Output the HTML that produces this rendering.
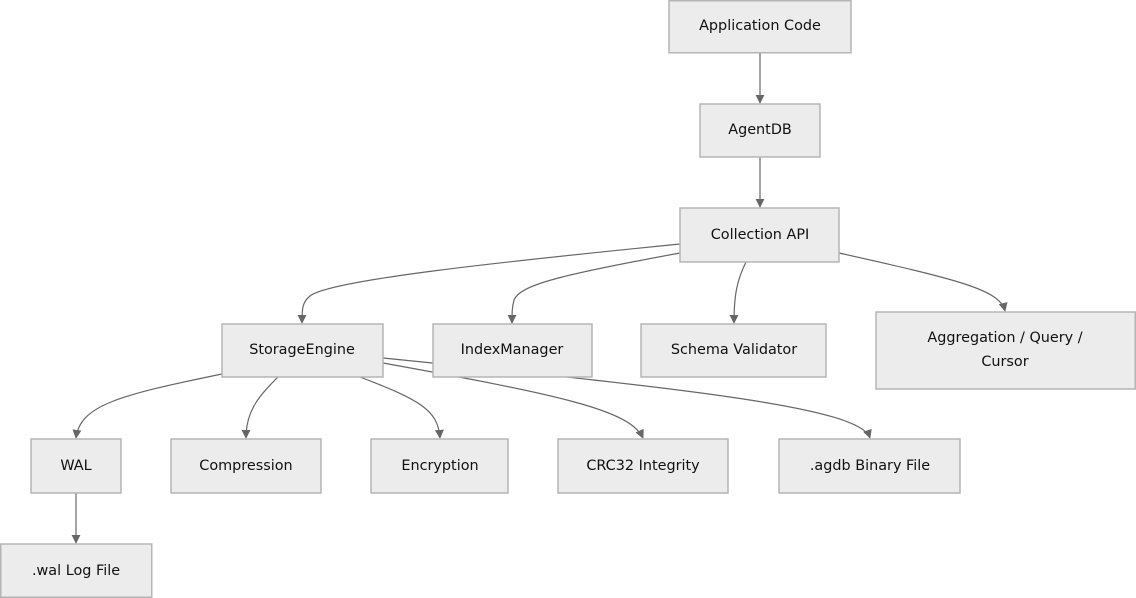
<!DOCTYPE html>
<html><head><meta charset="utf-8"><style>
html,body{margin:0;padding:0;background:#fff;}
svg{display:block}
text{font-family:"DejaVu Sans","Liberation Sans",sans-serif;font-size:14.4px;fill:#111;text-anchor:middle;dominant-baseline:central}
rect{fill:#ececec;stroke:#b5b5b5;stroke-width:1.5}
path{fill:none;stroke:#666;stroke-width:1.2}
</style></head><body>
<svg width="1136" height="598" viewBox="0 0 1136 598">
<defs><marker id="a" viewBox="0 0 10 10" refX="9" refY="5" markerWidth="9" markerHeight="9" orient="auto" markerUnits="userSpaceOnUse"><path d="M0,0L10,5L0,10z" style="fill:#666;stroke:none"/></marker></defs>
<path d="M760,53V103" marker-end="url(#a)"/>
<path d="M760,157V207" marker-end="url(#a)"/>
<path d="M680,244C500,262 330,280 310,296 C302,302 302,310 302,323" marker-end="url(#a)"/>
<path d="M680,253C560,275 520,285 514,300 C512,307 512,314 512,323" marker-end="url(#a)"/>
<path d="M746,262C737,280 734,295 734,323" marker-end="url(#a)"/>
<path d="M839,253C960,280 1000,290 1005,311" marker-end="url(#a)"/>
<path d="M222,374C120,395 80,405 76,438" marker-end="url(#a)"/>
<path d="M278,377C260,395 246,410 246,438" marker-end="url(#a)"/>
<path d="M360,377C420,400 438,410 440,438" marker-end="url(#a)"/>
<path d="M383,363C560,395 630,410 643,438" marker-end="url(#a)"/>
<path d="M383,358C700,390 860,408 870,438" marker-end="url(#a)"/>
<path d="M76,493V543" marker-end="url(#a)"/>
<rect x="669" y="0.75" width="182" height="52"/><text x="760" y="26">Application Code</text>
<rect x="700" y="104" width="120" height="53"/><text x="760" y="130">AgentDB</text>
<rect x="680" y="208" width="159" height="54"/><text x="760" y="235">Collection API</text>
<rect x="222" y="324" width="161" height="53"/><text x="302" y="350">StorageEngine</text>
<rect x="433" y="324" width="159" height="53"/><text x="512" y="350">IndexManager</text>
<rect x="641" y="324" width="185" height="53"/><text x="734" y="350">Schema Validator</text>
<rect x="876" y="312" width="259.25" height="77"/><text x="1005" y="338">Aggregation / Query /</text><text x="1005" y="362">Cursor</text>
<rect x="31" y="439" width="90" height="54"/><text x="76" y="466">WAL</text>
<rect x="171" y="439" width="150" height="54"/><text x="246" y="466">Compression</text>
<rect x="371" y="439" width="137" height="54"/><text x="440" y="466">Encryption</text>
<rect x="558" y="439" width="170" height="54"/><text x="643" y="466">CRC32 Integrity</text>
<rect x="779" y="439" width="181" height="54"/><text x="870" y="466">.agdb Binary File</text>
<rect x="0.75" y="544" width="151" height="53.25"/><text x="76" y="571">.wal Log File</text>
</svg>
</body></html>
